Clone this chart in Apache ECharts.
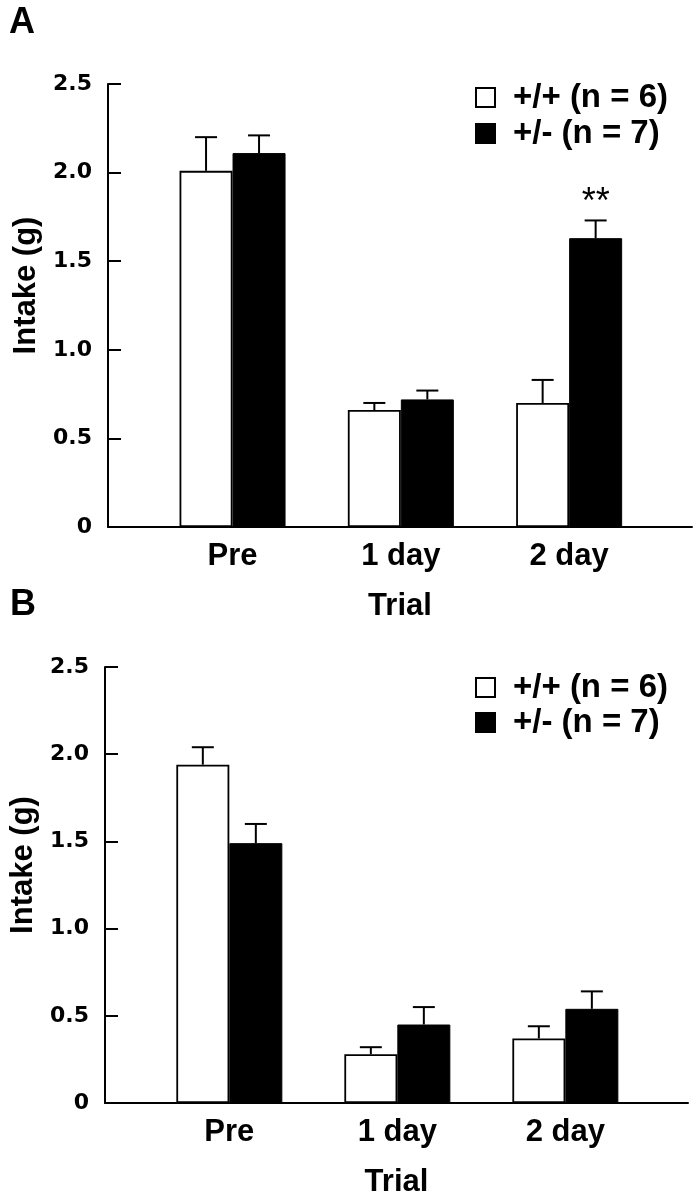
<!DOCTYPE html>
<html><head><meta charset="utf-8">
<script src="https://cdn.jsdelivr.net/npm/echarts@6/dist/echarts.min.js"></script>
<style>html,body{margin:0;padding:0;background:#fff}#c{width:699px;height:1199px}</style>
</head><body><div id="c"></div>
<script>
const categories = ['Pre', '1 day', '2 day'];
const seriesNames = ['+/+ (n = 6)', '+/- (n = 7)'];
const tickLabels = ['0', '0.5', '1.0', '1.5', '2.0', '2.5'];
const panelLabels = ['A', 'B'];
const axisTitleY = 'Intake (g)';
const axisTitleX = 'Trial';
// Panel A
const aWild = [2.01, 0.66, 0.70];
const aWildErr = [0.19, 0.04, 0.13];
const aHet = [2.11, 0.72, 1.63];
const aHetErr = [0.10, 0.05, 0.10];
const aSig = ['', '', '**'];
// Panel B
const bWild = [1.94, 0.28, 0.37];
const bWildErr = [0.10, 0.04, 0.07];
const bHet = [1.49, 0.45, 0.54];
const bHetErr = [0.11, 0.10, 0.10];
const bSig = ['', '', ''];

const BAR_W = 53, CAP_W = 22;
const BOLD = 'Liberation Sans';
function barData(vals){ return vals.map((v,i)=>[i,v]); }
function errData(vals, errs){ return vals.map((v,i)=>[i, v, errs[i]]); }
function errRender(offset, sig){
  return function(params, api){
    const x = api.value(0), v = api.value(1), e = api.value(2);
    const p0 = api.coord([x, v]); const p1 = api.coord([x, v + e]);
    const cx = p0[0] + offset;
    const children = [
      {type:'line', shape:{x1:cx,y1:p0[1],x2:cx,y2:p1[1]}, style:{stroke:'#000', lineWidth:2}},
      {type:'line', shape:{x1:cx-CAP_W/2,y1:p1[1],x2:cx+CAP_W/2,y2:p1[1]}, style:{stroke:'#000', lineWidth:2}}
    ];
    const s = sig && sig[params.dataIndex];
    if (s) children.push({type:'text', style:{text:s, x:cx, y:p1[1]-17, align:'center', verticalAlign:'middle', textAlign:'center', textVerticalAlign:'middle', font:'normal 36px "Liberation Sans"', fill:'#000'}});
    return {type:'group', children};
  };
}
function panelSeries(k, wild, wErr, het, hErr, sig){
  return [
    {type:'bar', name:seriesNames[0], xAxisIndex:k, yAxisIndex:k, data:barData(wild), barWidth:BAR_W, barGap:'0%', itemStyle:{color:'#fff', borderColor:'#000', borderWidth:1.8}},
    {type:'bar', name:seriesNames[1], xAxisIndex:k, yAxisIndex:k, data:barData(het), barWidth:BAR_W, barGap:'0%', itemStyle:{color:'#000', borderColor:'#000', borderWidth:1}},
    {type:'custom', xAxisIndex:k, yAxisIndex:k, data:errData(wild, wErr), renderItem:errRender(-BAR_W/2, null), encode:{x:0, y:1}, z:3, silent:true},
    {type:'custom', xAxisIndex:k, yAxisIndex:k, data:errData(het, hErr), renderItem:errRender(BAR_W/2, sig), encode:{x:0, y:1}, z:3, silent:true}
  ];
}
function xAxisCfg(k){
  return {type:'value', gridIndex:k, min:-0.74, max:2.73, splitLine:{show:false}, axisTick:{show:false},
    axisLine:{show:true, onZero:false, lineStyle:{color:'#000', width:2}},
    axisLabel:{customValues:[0,1,2], formatter:(v)=>categories[Math.round(v)], color:'#000', fontFamily:BOLD, fontWeight:'bold', fontSize:31, margin:14},
    name:axisTitleX, nameLocation:'middle', nameGap:64,
    nameTextStyle:{fontFamily:BOLD, fontWeight:'bold', fontSize:31, color:'#000'}};
}
function yAxisCfg(k){
  return {type:'value', gridIndex:k, min:0, max:2.5, interval:0.5, splitLine:{show:false},
    axisLine:{show:true, onZero:false, lineStyle:{color:'#000', width:2}},
    axisTick:{show:true, inside:true, length:13, lineStyle:{color:'#000', width:2}},
    axisLabel:{formatter:(v)=>tickLabels[Math.round(v/0.5)], color:'#000', fontFamily:'DejaVu Sans', fontWeight:'bold', fontSize:22, margin:16},
    name:axisTitleY, nameLocation:'middle', nameRotate:90, nameGap:66,
    nameTextStyle:{fontFamily:BOLD, fontWeight:'bold', fontSize:31, color:'#000', padding:[0,0,0,40]}};
}
function legendCfg(top, gap){
  return {data:seriesNames, orient:'vertical', left:475, top:top, padding:0, itemWidth:19, itemHeight:19, itemGap:gap, icon:'rect', selectedMode:false,
    itemStyle:{borderColor:'#000', borderWidth:2},
    textStyle:{fontFamily:BOLD, fontWeight:'bold', fontSize:33, color:'#000', padding:[0,0,0,13]}};
}
const titleStyle = {fontFamily:BOLD, fontWeight:'bold', fontSize:36, color:'#000'};
const option = {
  animation:false,
  backgroundColor:'#fff',
  title:[
    {text:panelLabels[0], left:9, top:5, padding:0, textStyle:titleStyle},
    {text:panelLabels[1], left:10, top:587, padding:0, textStyle:titleStyle}
  ],
  legend:[legendCfg(81, 3), legendCfg(671, 2)],
  grid:[
    {left:108, top:84, width:584, height:443},
    {left:105, top:667, width:583, height:441}
  ],
  xAxis:[xAxisCfg(0), xAxisCfg(1)],
  yAxis:[yAxisCfg(0), yAxisCfg(1)],
  series:[].concat(
    panelSeries(0, aWild, aWildErr, aHet, aHetErr, aSig),
    panelSeries(1, bWild, bWildErr, bHet, bHetErr, bSig)
  )
};
const chart = echarts.init(document.getElementById('c'), null, {renderer:'canvas'});
chart.setOption(option);
</script>
</body></html>
